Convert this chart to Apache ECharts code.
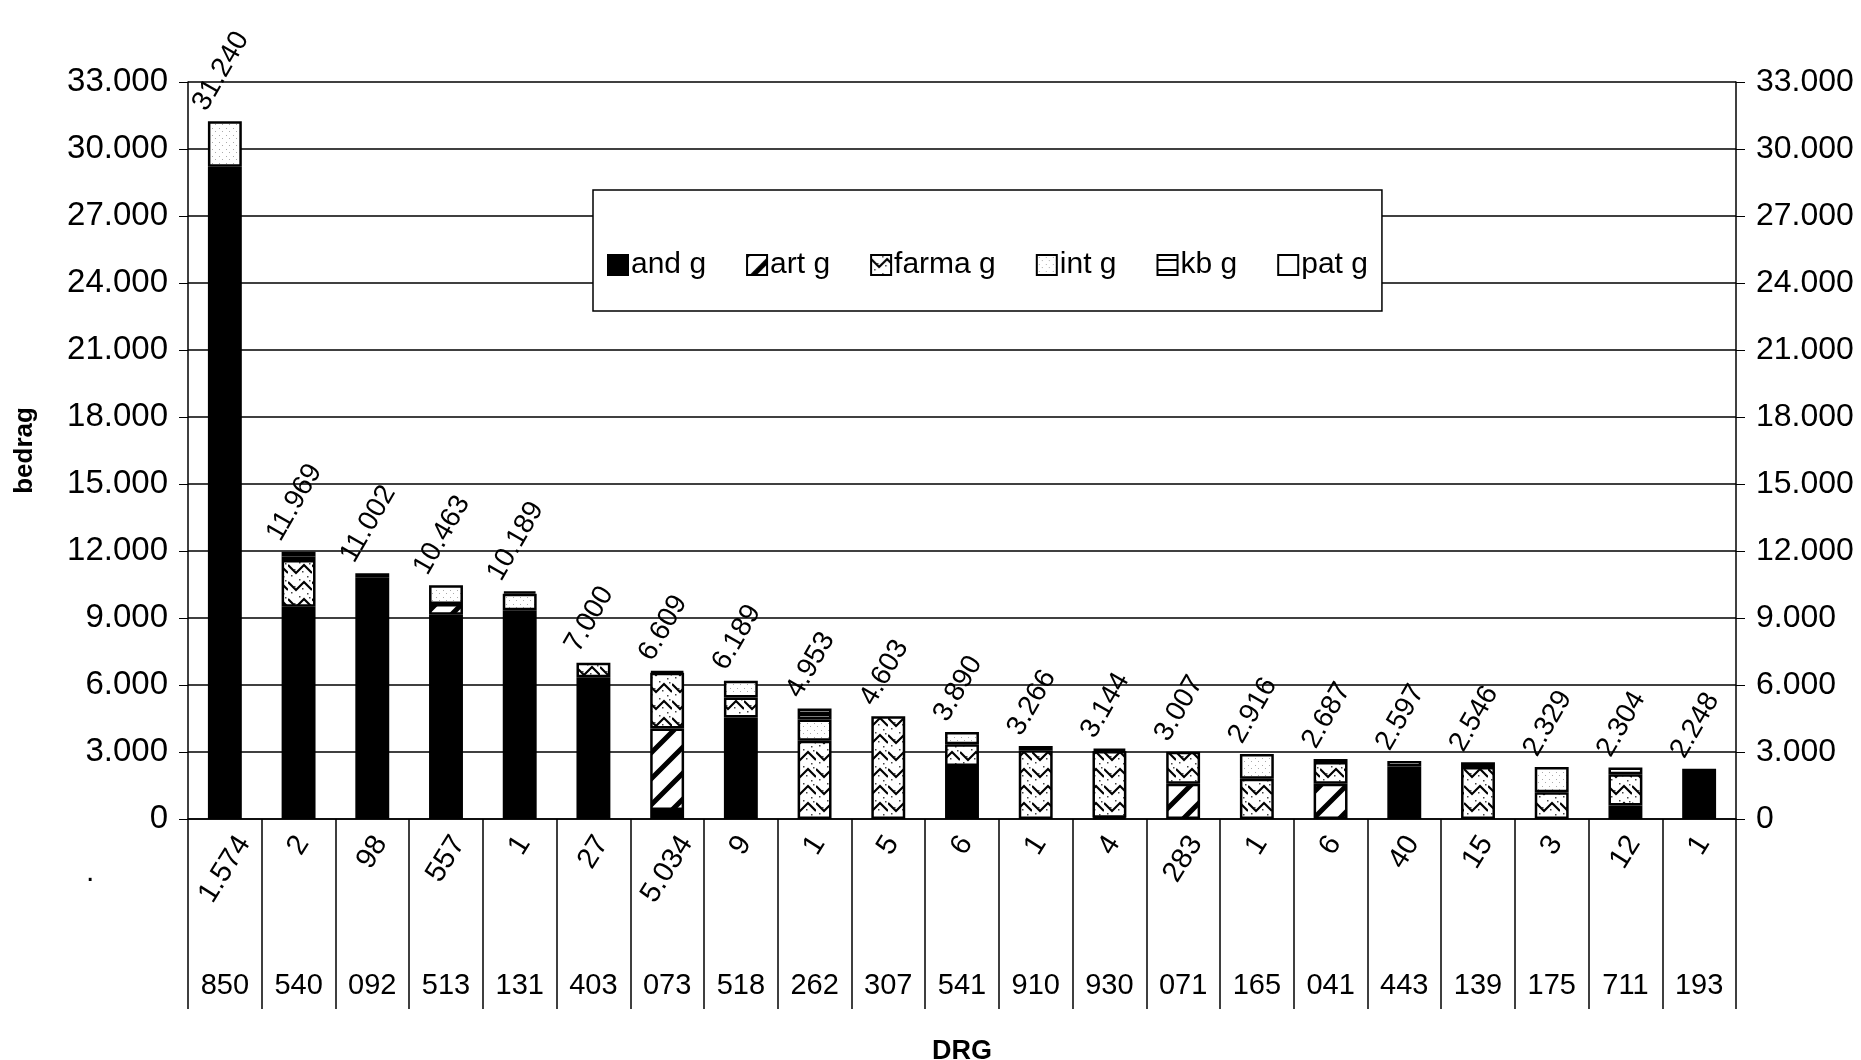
<!DOCTYPE html>
<html>
<head>
<meta charset="utf-8">
<script src="https://cdn.jsdelivr.net/npm/echarts@6/dist/echarts.min.js"></script>
<style>
  html, body { margin: 0; padding: 0; background: #fff; }
  #chart { width: 1861px; height: 1060px; }
</style>
</head>
<body>
<div id="chart"></div>
<script>
// DRG codes and number of cases per DRG
const drg = ['850', '540', '092', '513', '131', '403', '073', '518', '262', '307', '541',
  '910', '930', '071', '165', '041', '443', '139', '175', '711', '193'];
const counts = [1574, 2, 98, 557, 1, 27, 5034, 9, 1, 5, 6, 1, 4, 283, 1, 6, 40, 15, 3, 12, 1];
// totals shown above the bars
const totals = [31240, 11969, 11002, 10463, 10189, 7000, 6609, 6189, 4953, 4603, 3890,
  3266, 3144, 3007, 2916, 2687, 2597, 2546, 2329, 2304, 2248];

// stacked parts (bedrag)
const andG = [29200, 9500, 10820, 9150, 9350, 6350, 400, 4545, 0, 0, 2370, 0, 60, 0, 0, 0, 2350, 0, 0, 600, 2248];
const artG = [0, 0, 0, 480, 0, 0, 3650, 0, 0, 0, 0, 0, 0, 1575, 0, 1575, 0, 0, 0, 0, 0];
const farmaG = [0, 2100, 0, 0, 0, 650, 2500, 900, 3500, 4603, 975, 3080, 2990, 1432, 1800, 975, 0, 2330, 1200, 1400, 0];
const intG = [2040, 0, 0, 833, 740, 0, 0, 744, 950, 0, 545, 0, 0, 0, 1116, 0, 0, 0, 1129, 0, 0];
const kbG = [0, 150, 0, 0, 99, 0, 0, 0, 250, 0, 0, 0, 94, 0, 0, 137, 247, 0, 0, 0, 0];
const patG = [0, 219, 182, 0, 0, 0, 59, 0, 253, 0, 0, 186, 0, 0, 0, 0, 0, 216, 0, 304, 0];

const seriesNames = ['and g', 'art g', 'farma g', 'int g', 'kb g', 'pat g'];
const seriesData = [andG, artG, farmaG, intG, kbG, patG];

const FONT = 'Liberation Sans';

function fmt(v) {
  return String(v).replace(/\B(?=(\d{3})+(?!\d))/g, '.');
}

const measureCtx = document.createElement('canvas').getContext('2d');
function textWidth(txt, size) {
  measureCtx.font = size + 'px "' + FONT + '"';
  return measureCtx.measureText(txt).width;
}

// small canvas tiles for the black/white fills
function tile(w, h, draw) {
  const c = document.createElement('canvas');
  c.width = w; c.height = h;
  const ctx = c.getContext('2d');
  ctx.fillStyle = '#fff';
  ctx.fillRect(0, 0, w, h);
  draw(ctx);
  return { image: c, repeat: 'repeat' };
}

const artFill = tile(26, 26, ctx => {
  ctx.strokeStyle = '#000';
  ctx.lineWidth = 5;
  ctx.beginPath();
  ctx.moveTo(-6, 32); ctx.lineTo(32, -6);
  ctx.moveTo(-19, 19); ctx.lineTo(19, -19);
  ctx.moveTo(7, 45); ctx.lineTo(45, 7);
  ctx.stroke();
});
const farmaFill = tile(24, 17, ctx => {
  ctx.strokeStyle = '#000';
  ctx.lineWidth = 2.2;
  ctx.beginPath();
  ctx.moveTo(0, 4); ctx.lineTo(8, 12); ctx.lineTo(16, 4); ctx.lineTo(24, 12);
  ctx.stroke();
  ctx.fillStyle = '#444';
  [[3, 14], [11, 1], [19, 15], [21, 2], [6, 8], [14, 10]].forEach(p => ctx.fillRect(p[0], p[1], 1.5, 1.5));
});
const intFill = tile(7, 7, ctx => {
  ctx.fillStyle = '#aaa';
  ctx.fillRect(2, 2, 1, 1);
  ctx.fillRect(5, 5, 1, 1);
});
const kbFill = tile(8, 10, ctx => {
  ctx.fillStyle = '#000';
  ctx.fillRect(0, 4, 8, 2);
});
const fills = ['#000', artFill, farmaFill, intFill, kbFill, '#fff'];

const chart = echarts.init(document.getElementById('chart'));

const series = seriesNames.map((name, i) => ({
  name: name,
  type: 'bar',
  stack: 'total',
  barWidth: '46%',
  data: seriesData[i].map(v => (v ? v : '-')),
  itemStyle: { color: fills[i], borderColor: '#000', borderWidth: 2.5 }
}));

const option = {
  backgroundColor: '#fff',
  animation: false,
  grid: { left: 188, right: 125, top: 82, bottom: 241, containLabel: false, outerBoundsMode: 'none' },
  legend: {
    data: seriesNames,
    icon: 'rect',
    left: 593,
    top: 190,
    padding: [60, 14, 31, 14],
    itemGap: 40,
    itemWidth: 20,
    itemHeight: 20,
    borderColor: '#000',
    borderWidth: 1.5,
    backgroundColor: '#fff',
    textStyle: { fontFamily: FONT, fontSize: 30, color: '#000', padding: [0, 0, 0, -2] }
  },
  xAxis: {
    type: 'category',
    data: drg,
    name: 'DRG',
    nameLocation: 'middle',
    nameGap: 219,
    nameTextStyle: { fontFamily: FONT, fontSize: 27, fontWeight: 'bold', color: '#000' },
    axisLine: { lineStyle: { color: '#000', width: 1.5 } },
    axisTick: { show: true, length: 190, lineStyle: { color: '#000', width: 1.5 } },
    axisLabel: { margin: 152, fontFamily: FONT, fontSize: 29, color: '#000' }
  },
  yAxis: [
    {
      type: 'value',
      min: 0,
      max: 33000,
      interval: 3000,
      name: 'bedrag',
      nameLocation: 'middle',
      nameGap: 150,
      nameRotate: 90,
      nameTextStyle: { fontFamily: FONT, fontSize: 26, fontWeight: 'bold', color: '#000' },
      axisLine: { show: true, lineStyle: { color: '#000', width: 1.5 } },
      axisTick: { show: true, length: 9, lineStyle: { color: '#000' } },
      axisLabel: { margin: 20, fontFamily: FONT, fontSize: 33, color: '#000', formatter: v => fmt(v) },
      splitLine: { lineStyle: { color: '#000', width: 1.5 } }
    },
    {
      type: 'value',
      min: 0,
      max: 33000,
      interval: 3000,
      position: 'right',
      axisLine: { show: true, lineStyle: { color: '#000', width: 1.5 } },
      axisTick: { show: true, length: 9, lineStyle: { color: '#000' } },
      axisLabel: { margin: 20, fontFamily: FONT, fontSize: 32, color: '#000', formatter: v => fmt(v) },
      splitLine: { show: false }
    }
  ],
  series: series
};

chart.setOption(option);

// rotated labels: totals above the bars and case counts in the table row.
// The rotated text box is centred on the bar / cell, like the spreadsheet does it.
function rotatedText(txt, size, angleDeg, cx, edgeY, above) {
  const a = angleDeg * Math.PI / 180;
  const L = textWidth(txt, size);
  const h = size * 0.72;
  const boxH = L * Math.sin(a) + h * Math.cos(a);
  return {
    type: 'text',
    x: cx,
    y: above ? edgeY - boxH / 2 : edgeY + boxH / 2,
    rotation: a,
    silent: true,
    style: {
      text: txt,
      fontFamily: FONT,
      fontSize: size,
      fill: '#000',
      align: 'center',
      verticalAlign: 'middle'
    }
  };
}

const graphics = [
  { type: 'text', left: 86, top: 858, style: { text: '.', fontFamily: FONT, fontSize: 30, fill: '#000' } }
];
const axisY = chart.convertToPixel({ yAxisIndex: 0 }, 0);
totals.forEach((v, i) => {
  const x = chart.convertToPixel({ xAxisIndex: 0 }, i);
  const top = chart.convertToPixel({ yAxisIndex: 0 }, v);
  graphics.push(rotatedText(fmt(v), 28, 60, x - 4, top - 8, true));
});
counts.forEach((v, i) => {
  const x = chart.convertToPixel({ xAxisIndex: 0 }, i);
  graphics.push(rotatedText(fmt(v), 29, 58, x, axisY + 14, false));
});
chart.setOption({ graphic: graphics });
</script>
</body>
</html>
